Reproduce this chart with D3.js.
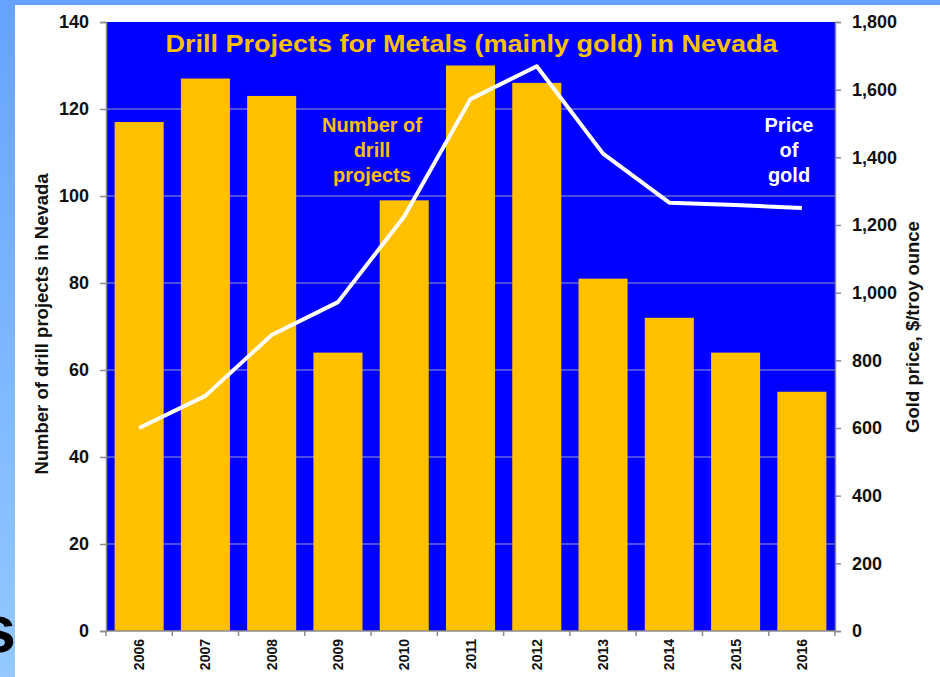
<!DOCTYPE html>
<html>
<head>
<meta charset="utf-8">
<script src="https://cdn.jsdelivr.net/npm/d3@7"></script>
<style>
  body { margin: 0; background: #ffffff; }
  svg { display: block; font-family: "Liberation Sans", Arial, sans-serif; font-weight: bold; }
</style>
</head>
<body>
<svg id="chart" width="940" height="677"></svg>
<script>
// data
var years = ['2006','2007','2008','2009','2010','2011','2012','2013','2014','2015','2016'];
var drill_projects = [117, 127, 123, 64, 99, 130, 126, 81, 72, 64, 55];
var gold_price = [600, 695, 875, 972, 1225, 1572, 1669, 1411, 1266, 1259, 1250];
var left_ticks = [0, 20, 40, 60, 80, 100, 120, 140];
var right_ticks = [0, 200, 400, 600, 800, 1000, 1200, 1400, 1600, 1800];

var svg = d3.select('#chart');

// slide background strips
svg.append('rect').attr('x', 0).attr('y', 0).attr('width', 940).attr('height', 5).style('fill', '#66a3ff');
var grad = svg.append('defs').append('linearGradient')
  .attr('id', 'side_grad').attr('x1', 0).attr('y1', 0).attr('x2', 0).attr('y2', 1);
grad.append('stop').attr('offset', '0%').attr('stop-color', '#66a3ff');
grad.append('stop').attr('offset', '100%').attr('stop-color', '#94c8ff');
svg.append('rect').attr('x', 0).attr('y', 0).attr('width', 15).attr('height', 677).style('fill', 'url(#side_grad)');
svg.append('text').attr('x', 16).attr('y', 652).attr('text-anchor', 'end')
  .style('font-size', '66px').style('fill', '#000').text('s');

var plot = {left: 106, right: 835, top: 22, bottom: 631};

var x = d3.scaleBand()
  .domain(years)
  .range([plot.left, plot.right])
  .paddingInner(0.26)
  .paddingOuter(0.13);

var y_left = d3.scaleLinear().domain([0, 140]).range([plot.bottom, plot.top]);
var y_right = d3.scaleLinear().domain([0, 1800]).range([plot.bottom, plot.top]);

// plot area
svg.append('rect')
  .attr('x', plot.left).attr('y', plot.top)
  .attr('width', plot.right - plot.left).attr('height', plot.bottom - plot.top)
  .style('fill', '#0000ff');

// gridlines
svg.append('g').selectAll('line')
  .data(left_ticks.slice(1, -1))
  .enter().append('line')
  .attr('x1', plot.left).attr('x2', plot.right)
  .attr('y1', function(d){ return y_left(d); })
  .attr('y2', function(d){ return y_left(d); })
  .style('stroke', '#9a9ac4').style('stroke-width', 1);

// bars
svg.append('g').selectAll('rect')
  .data(drill_projects)
  .enter().append('rect')
  .attr('x', function(d, i){ return x(years[i]); })
  .attr('y', function(d){ return y_left(d); })
  .attr('width', x.bandwidth())
  .attr('height', function(d){ return plot.bottom - y_left(d); })
  .style('fill', '#ffc000');

// gold price line
var line = d3.line()
  .x(function(d, i){ return x(years[i]) + x.bandwidth() / 2; })
  .y(function(d){ return y_right(d); });

svg.append('path')
  .datum(gold_price)
  .attr('d', line)
  .style('fill', 'none')
  .style('stroke', '#ffffff')
  .style('stroke-width', 4)
  .style('stroke-linejoin', 'round');

// axes
var axis_color = '#8c8c8c';

var left_axis = svg.append('g')
  .attr('transform', 'translate(' + plot.left + ',0)')
  .call(d3.axisLeft(y_left).tickValues(left_ticks).tickSize(6).tickPadding(11));

var right_axis = svg.append('g')
  .attr('transform', 'translate(' + plot.right + ',0)')
  .call(d3.axisRight(y_right).tickValues(right_ticks).tickSize(6).tickPadding(11)
    .tickFormat(d3.format(',')));

[left_axis, right_axis].forEach(function(ax){
  ax.select('.domain').style('stroke', axis_color).attr('stroke-width', 1.5);
  ax.selectAll('.tick line').style('stroke', axis_color).attr('stroke-width', 1.5);
  ax.selectAll('.tick text')
    .style('font-size', '18px')
    .style('font-weight', 'bold')
    .style('font-family', '"Liberation Sans", Arial, sans-serif')
    .style('fill', '#111');
});

// bottom axis: ticks at category boundaries
svg.append('line')
  .attr('x1', plot.left).attr('x2', plot.right)
  .attr('y1', plot.bottom).attr('y2', plot.bottom)
  .style('stroke', axis_color).style('stroke-width', 1.5);

var boundaries = years.map(function(d){ return x(d) - x.step() * x.paddingInner() / 2; });
boundaries.push(plot.right);
svg.append('g').selectAll('line')
  .data(boundaries)
  .enter().append('line')
  .attr('x1', function(d){ return d; }).attr('x2', function(d){ return d; })
  .attr('y1', plot.bottom).attr('y2', plot.bottom + 5)
  .style('stroke', axis_color).style('stroke-width', 1.5);

svg.append('g').selectAll('text')
  .data(years)
  .enter().append('text')
  .attr('transform', function(d){
    return 'translate(' + (x(d) + x.bandwidth() / 2 + 5) + ',' + (plot.bottom + 8) + ') rotate(-90)';
  })
  .attr('text-anchor', 'end')
  .style('font-size', '14px')
  .style('fill', '#111')
  .text(function(d){ return d; });

// axis titles
svg.append('text')
  .attr('transform', 'translate(48,324) rotate(-90)')
  .attr('text-anchor', 'middle')
  .style('font-size', '18.5px')
  .style('fill', '#111')
  .text('Number of drill projects in Nevada');

svg.append('text')
  .attr('transform', 'translate(919,327) rotate(-90)')
  .attr('text-anchor', 'middle')
  .style('font-size', '18.5px')
  .style('fill', '#111')
  .text('Gold price, $/troy ounce');

// title and labels in the plot
svg.append('text')
  .attr('x', 471.5).attr('y', 52)
  .attr('text-anchor', 'middle')
  .attr('textLength', 612)
  .attr('lengthAdjust', 'spacingAndGlyphs')
  .style('font-size', '23px')
  .style('fill', '#ffc000')
  .text('Drill Projects for Metals (mainly gold) in Nevada');

function label_block(lines, cx, y0, color){
  svg.append('g').selectAll('text')
    .data(lines)
    .enter().append('text')
    .attr('x', cx)
    .attr('y', function(d, i){ return y0 + i * 25; })
    .attr('text-anchor', 'middle')
    .style('font-size', '20px')
    .style('fill', color)
    .text(function(d){ return d; });
}

label_block(['Number of', 'drill', 'projects'], 372, 132, '#ffc000');
label_block(['Price', 'of', 'gold'], 789, 132, '#ffffff');
</script>
</body>
</html>
